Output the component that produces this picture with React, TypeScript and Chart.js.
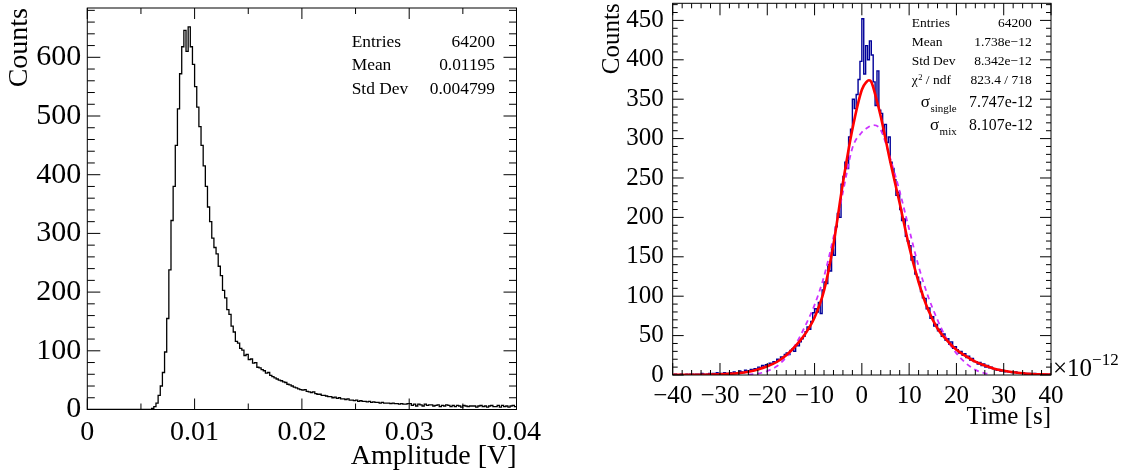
import React, { useEffect, useRef } from 'react';
import { Chart, registerables } from 'chart.js';

Chart.register(...registerables);

const FONT = "'Liberation Serif', 'Times New Roman', Times, serif";

// ---------------- Left panel: Amplitude histogram ----------------
const ampMin = 0;
const ampMax = 0.04;
const ampBinWidth = 0.0002;
const ampYMax = 684;
const ampCounts = [
  0, 0, 0, 0, 0, 0, 0, 0, 0, 0,
  0, 0, 0, 0, 0, 0, 0, 0, 0, 0,
  0, 0, 0, 0, 0, 0, 0, 0, 0, 0,
  2, 5, 11, 24, 40, 63, 98, 155, 238, 322,
  380, 450, 512, 572, 618, 646, 610, 652, 618, 588,
  550, 515, 482, 450, 415, 380, 345, 320, 292, 276,
  265, 244, 228, 203, 190, 170, 162, 142, 132, 116,
  113, 104, 101, 92, 94, 85, 86, 79, 80, 72,
  71, 68, 66, 62, 63, 58, 56, 54, 52, 50,
  49, 47, 46, 43, 42, 40, 38, 37, 35, 34,
  33, 34, 31, 30, 29, 30, 27, 26, 26, 24,
  24, 23, 22, 22, 20, 21, 19, 20, 18, 18,
  17, 18, 16, 16, 15, 16, 14, 15, 14, 14,
  13, 14, 12, 13, 12, 12, 11, 12, 11, 11,
  11, 10, 11, 10, 10, 9, 10, 9, 9, 10,
  10, 7, 9, 6, 9, 8, 6, 9, 7, 8,
  8, 6, 7, 8, 5, 7, 6, 8, 7, 5,
  7, 5, 7, 6, 4, 7, 6, 5, 6, 6,
  6, 4, 6, 7, 5, 6, 4, 6, 7, 5,
  5, 7, 4, 7, 5, 6, 4, 6, 7, 5,
];
const ampTickValues = [0, 0.01, 0.02, 0.03, 0.04];
const ampTickLabels = ['0', '0.01', '0.02', '0.03', '0.04'];
const ampCountTickValues = [0, 100, 200, 300, 400, 500, 600];
const ampCountTickLabels = ['0', '100', '200', '300', '400', '500', '600'];
const ampStatLabels = ['Entries', 'Mean', 'Std Dev'];
const ampStatValues = ['64200', '0.01195', '0.004799'];

// ---------------- Right panel: Time histogram ----------------
const timeMin = -40;
const timeMax = 40;
const timeBinWidth = 0.4;
const timeYMax = 471.7;
const timeCounts = [
  0, 1, 0, 0, 1, 0, 0, 1, 0, 1,
  1, 0, 1, 1, 0, 2, 1, 0, 1, 2,
  1, 2, 1, 3, 1, 2, 2, 3, 1, 2,
  3, 2, 4, 2, 3, 5, 4, 3, 6, 5,
  5, 7, 6, 8, 7, 10, 9, 12, 11, 13,
  12, 15, 14, 17, 16, 20, 19, 23, 22, 26,
  28, 26, 31, 33, 30, 38, 37, 42, 46, 49,
  55, 61, 58, 68, 79, 84, 80, 92, 78, 108,
  118, 116, 140, 132, 160, 152, 188, 205, 200, 242,
  252, 270, 262, 302, 312, 350, 338, 356, 375, 398,
  452, 382, 418, 400, 424, 406, 372, 342, 386, 336,
  332, 306, 318, 295, 302, 270, 262, 248, 228, 232,
  210, 196, 198, 176, 170, 164, 146, 150, 128, 124,
  118, 106, 98, 97, 84, 85, 72, 74, 62, 64,
  56, 58, 49, 52, 44, 46, 39, 42, 34, 36,
  32, 28, 30, 25, 27, 22, 24, 19, 21, 17,
  17, 14, 16, 12, 14, 10, 12, 9, 10, 8,
  8, 6, 7, 5, 6, 4, 5, 4, 4, 3,
  3, 4, 2, 3, 2, 3, 1, 2, 2, 1,
  1, 2, 1, 0, 1, 1, 0, 1, 0, 1,
];
const fitTimes = [-40, -38, -36, -34, -32, -30, -28, -26, -24, -22, -20, -18, -16, -14, -12, -10, -8, -6, -4, -2, 0, 1, 1.5, 2, 3, 4, 6, 8, 10, 12, 14, 16, 18, 20, 22, 24, 26, 28, 30, 32, 34, 36, 38, 40];
const fitValues = [0.1, 0.15, 0.25, 0.35, 0.5, 0.8, 1.4, 2.4, 4.2, 7, 11, 16.5, 25, 37, 52, 73, 107, 166, 244, 312, 362, 372, 374, 372, 352, 328, 271, 218, 163, 118, 83, 59, 44, 32, 24, 17, 12, 8, 5.4, 3.5, 2.2, 1.3, 0.8, 0.5];
const gausTimes = [-24, -22, -20, -18, -16, -14, -12, -10, -8, -6, -4, -2, 0, 1, 2.4, 4, 6, 8, 10, 12, 14, 16, 18, 20, 22, 24, 26, 27];
const gausValues = [0.5, 1.6, 5, 11, 22.5, 39, 62, 89, 125, 175, 232, 288, 308, 313, 317, 311, 275, 233, 185, 138, 100, 70, 45, 27.5, 15, 6.5, 2.2, 1.2];
const timeTickValues = [-40, -30, -20, -10, 0, 10, 20, 30, 40];
const timeTickLabels = ['\u221240', '\u221230', '\u221220', '\u221210', '0', '10', '20', '30', '40'];
const timeCountTickValues = [0, 50, 100, 150, 200, 250, 300, 350, 400, 450];
const timeCountTickLabels = ['0', '50', '100', '150', '200', '250', '300', '350', '400', '450'];
const timeStatLabels = ['Entries', 'Mean', 'Std Dev'];
const timeStatValues = ['64200', '1.738e\u221212', '8.342e\u221212'];
const chi2Value = '823.4 / 718';
const sigmaSingleValue = '7.747e-12';
const sigmaMixValue = '8.107e-12';

// ---------------- helpers ----------------
function histPoints(counts: number[], xmin: number, w: number) {
  const pts = counts.map((c, i) => ({ x: xmin + i * w, y: c }));
  pts.push({ x: xmin + counts.length * w, y: counts[counts.length - 1] });
  return pts;
}

type FrameCfg = {
  xStart: number; xEnd: number; xMinor: number; xPerMajor: number; xMajorLen: number; xMinorLen: number;
  yStart: number; yEnd: number; yMinor: number; yPerMajor: number; yMajorLen: number; yMinorLen: number;
};

function framePlugin(cfg: FrameCfg) {
  return {
    id: 'rootFrame',
    afterDatasetsDraw(chart: any) {
      const { ctx, chartArea: a, scales } = chart;
      const sx = scales.x;
      const sy = scales.y;
      ctx.save();
      ctx.strokeStyle = '#000';
      ctx.lineWidth = 1;
      ctx.beginPath();
      const nx = Math.round((cfg.xEnd - cfg.xStart) / cfg.xMinor);
      for (let i = 0; i <= nx; i++) {
        const v = cfg.xStart + i * cfg.xMinor;
        const len = i % cfg.xPerMajor === 0 ? cfg.xMajorLen : cfg.xMinorLen;
        const px = sx.getPixelForValue(v);
        ctx.moveTo(px, a.bottom);
        ctx.lineTo(px, a.bottom - len);
        ctx.moveTo(px, a.top);
        ctx.lineTo(px, a.top + len);
      }
      const ny = Math.floor((cfg.yEnd - cfg.yStart) / cfg.yMinor + 1e-9);
      for (let i = 0; i <= ny; i++) {
        const v = cfg.yStart + i * cfg.yMinor;
        const len = i % cfg.yPerMajor === 0 ? cfg.yMajorLen : cfg.yMinorLen;
        const py = sy.getPixelForValue(v);
        ctx.moveTo(a.left, py);
        ctx.lineTo(a.left + len, py);
        ctx.moveTo(a.right, py);
        ctx.lineTo(a.right - len, py);
      }
      ctx.stroke();
      ctx.strokeRect(a.left, a.top, a.right - a.left, a.bottom - a.top);
      ctx.restore();
    },
  };
}

function txt(ctx: CanvasRenderingContext2D, s: string, x: number, y: number, size: number, align: CanvasTextAlign = 'left') {
  ctx.font = `${size}px ${FONT}`;
  ctx.textAlign = align;
  ctx.textBaseline = 'alphabetic';
  ctx.fillStyle = '#000';
  ctx.fillText(s, x, y);
}

const leftTextPlugin = {
  id: 'leftText',
  afterDraw(chart: any) {
    const ctx = chart.ctx as CanvasRenderingContext2D;
    ctx.save();
    const base = [46.7, 70, 94];
    ampStatLabels.forEach((l, i) => {
      txt(ctx, l, 351.7, base[i], 17.4, 'left');
      txt(ctx, ampStatValues[i], 495, base[i], 17.4, 'right');
    });
    ctx.restore();
  },
};

const rightTextPlugin = {
  id: 'rightText',
  afterDraw(chart: any) {
    const ctx = chart.ctx as CanvasRenderingContext2D;
    ctx.save();
    const base = [26.7, 45.7, 65];
    const lx = 351.7;
    const vx = 471.7;
    timeStatLabels.forEach((l, i) => {
      txt(ctx, l, lx, base[i], 13.5, 'left');
      txt(ctx, timeStatValues[i], vx, base[i], 13.5, 'right');
    });
    // chi2 / ndf
    txt(ctx, '\u03c7', lx, 84, 13.5, 'left');
    ctx.font = `13.5px ${FONT}`;
    const wChi = ctx.measureText('\u03c7').width;
    txt(ctx, '2', lx + wChi + 0.5, 80, 8.5, 'left');
    ctx.font = `8.5px ${FONT}`;
    const w2 = ctx.measureText('2').width;
    txt(ctx, ' / ndf', lx + wChi + 0.5 + w2, 84, 13.5, 'left');
    txt(ctx, chi2Value, vx, 84, 13.5, 'right');
    // sigma lines
    const sigLine = (sub: string, yb: number, val: string) => {
      const subEnd = 396.7;
      ctx.font = `11px ${FONT}`;
      const wSub = ctx.measureText(sub).width;
      ctx.font = `17px ${FONT}`;
      const wSig = ctx.measureText('\u03c3').width;
      const xSub = subEnd - wSub;
      txt(ctx, '\u03c3', xSub - wSig - 0.5, yb, 17, 'left');
      txt(ctx, sub, xSub, yb + 5, 11, 'left');
      txt(ctx, val, 472.7, yb, 15.8, 'right');
    };
    sigLine('single', 106.7, sigmaSingleValue);
    sigLine('mix', 130, sigmaMixValue);
    // exponent label
    const a = chart.chartArea;
    txt(ctx, '\u00d710', a.right + 2, 376, 25, 'left');
    ctx.font = `25px ${FONT}`;
    const wx = ctx.measureText('\u00d710').width;
    txt(ctx, '\u221212', a.right + 2 + wx, 365, 17, 'left');
    ctx.restore();
  },
};

function tickSetter(values: number[]) {
  return (scale: any) => {
    scale.ticks = values.map((v) => ({ value: v }));
  };
}

function labelFor(values: number[], labels: string[]) {
  return (v: any) => {
    const i = values.findIndex((t) => Math.abs(t - Number(v)) < 1e-9);
    return i >= 0 ? labels[i] : '';
  };
}

export default function App() {
  const leftRef = useRef<HTMLCanvasElement | null>(null);
  const rightRef = useRef<HTMLCanvasElement | null>(null);

  useEffect(() => {
    Chart.defaults.font.family = FONT;
    Chart.defaults.color = '#000';

    const left = new Chart(leftRef.current as HTMLCanvasElement, {
      type: 'line',
      data: {
        datasets: [
          {
            label: 'amplitude',
            data: histPoints(ampCounts, ampMin, ampBinWidth),
            borderColor: '#000000',
            borderWidth: 1.3,
            pointRadius: 0,
            stepped: 'before',
            fill: false,
          },
        ],
      },
      options: {
        animation: false,
        responsive: false,
        maintainAspectRatio: false,
        events: [],
        layout: { padding: { left: 0, top: 8, right: 43.5, bottom: 0 } },
        plugins: { legend: { display: false }, tooltip: { enabled: false }, title: { display: false } },
        scales: {
          x: {
            type: 'linear',
            min: ampMin,
            max: ampMax,
            grid: { display: false, drawTicks: false },
            border: { display: false },
            afterBuildTicks: tickSetter(ampTickValues),
            ticks: {
              callback: labelFor(ampTickValues, ampTickLabels),
              font: { size: 28, family: FONT },
              color: '#000',
              padding: 6,
              maxRotation: 0,
              minRotation: 0,
              autoSkip: false,
            },
            title: {
              display: true,
              text: 'Amplitude [V]',
              align: 'end',
              color: '#000',
              font: { size: 28, family: FONT },
              padding: { top: 0, bottom: 2.7 },
            },
            afterFit: (s: any) => {
              s.height = 66.5;
              s.paddingLeft = 0;
              s.paddingRight = 0;
            },
          },
          y: {
            type: 'linear',
            min: 0,
            max: ampYMax,
            grid: { display: false, drawTicks: false },
            border: { display: false },
            afterBuildTicks: tickSetter(ampCountTickValues),
            ticks: {
              callback: labelFor(ampCountTickValues, ampCountTickLabels),
              font: { size: 30, family: FONT },
              color: '#000',
              padding: 6,
              autoSkip: false,
            },
            title: {
              display: true,
              text: 'Counts',
              align: 'end',
              color: '#000',
              font: { size: 28, family: FONT },
              padding: { top: 3.2, bottom: 0 },
            },
            afterFit: (s: any) => {
              s.width = 87.3;
              s.paddingTop = 0;
              s.paddingBottom = 0;
            },
          },
        },
      } as any,
      plugins: [
        framePlugin({
          xStart: 0, xEnd: 0.04, xMinor: 0.005, xPerMajor: 2, xMajorLen: 11, xMinorLen: 6,
          yStart: 0, yEnd: ampYMax, yMinor: 20, yPerMajor: 5, yMajorLen: 13, yMinorLen: 7.5,
        }),
        leftTextPlugin,
      ],
    });

    const right = new Chart(rightRef.current as HTMLCanvasElement, {
      type: 'line',
      data: {
        datasets: [
          {
            label: 'fit',
            data: fitTimes.map((x, i) => ({ x, y: fitValues[i] })),
            borderColor: '#ff0000',
            borderWidth: 2.6,
            pointRadius: 0,
            cubicInterpolationMode: 'monotone',
            fill: false,
            order: 0,
          },
          {
            label: 'gaus',
            data: gausTimes.map((x, i) => ({ x, y: gausValues[i] })),
            borderColor: '#cc33ff',
            borderWidth: 1.8,
            borderDash: [5, 4],
            pointRadius: 0,
            cubicInterpolationMode: 'monotone',
            fill: false,
            order: 1,
          },
          {
            label: 'time',
            data: histPoints(timeCounts, timeMin, timeBinWidth),
            borderColor: '#000099',
            borderWidth: 1.4,
            pointRadius: 0,
            stepped: 'before',
            fill: false,
            order: 2,
          },
        ],
      },
      options: {
        animation: false,
        responsive: false,
        maintainAspectRatio: false,
        events: [],
        layout: { padding: { left: 0, top: 3.3, right: 76, bottom: 0 } },
        plugins: { legend: { display: false }, tooltip: { enabled: false }, title: { display: false } },
        scales: {
          x: {
            type: 'linear',
            min: timeMin,
            max: timeMax,
            grid: { display: false, drawTicks: false },
            border: { display: false },
            afterBuildTicks: tickSetter(timeTickValues),
            ticks: {
              callback: labelFor(timeTickValues, timeTickLabels),
              font: { size: 25, family: FONT },
              color: '#000',
              padding: 6,
              maxRotation: 0,
              minRotation: 0,
              autoSkip: false,
            },
            title: {
              display: true,
              text: 'Time [s]',
              align: 'end',
              color: '#000',
              font: { size: 25, family: FONT },
              padding: { top: 0, bottom: 43.5 },
            },
            afterFit: (s: any) => {
              s.height = 101;
              s.paddingLeft = 0;
              s.paddingRight = 0;
            },
          },
          y: {
            type: 'linear',
            min: 0,
            max: timeYMax,
            grid: { display: false, drawTicks: false },
            border: { display: false },
            afterBuildTicks: tickSetter(timeCountTickValues),
            ticks: {
              callback: labelFor(timeCountTickValues, timeCountTickLabels),
              font: { size: 25, family: FONT },
              color: '#000',
              padding: 9,
              autoSkip: false,
            },
            title: {
              display: true,
              text: 'Counts',
              align: 'end',
              color: '#000',
              font: { size: 25, family: FONT },
              padding: { top: 37.5, bottom: 0 },
            },
            afterFit: (s: any) => {
              s.width = 112.7;
              s.paddingTop = 0;
              s.paddingBottom = 0;
            },
          },
        },
      } as any,
      plugins: [
        framePlugin({
          xStart: -40, xEnd: 40, xMinor: 2, xPerMajor: 5, xMajorLen: 12, xMinorLen: 5,
          yStart: 0, yEnd: timeYMax, yMinor: 10, yPerMajor: 5, yMajorLen: 11, yMinorLen: 5,
        }),
        rightTextPlugin,
      ],
    });

    return () => {
      left.destroy();
      right.destroy();
    };
  }, []);

  return (
    <div style={{ position: 'fixed', left: 0, top: 0, width: 1127, height: 476, background: '#ffffff' }}>
      <canvas ref={leftRef} width={560} height={476} style={{ position: 'absolute', left: 0, top: 0 }} />
      <canvas ref={rightRef} width={567} height={476} style={{ position: 'absolute', left: 560, top: 0 }} />
    </div>
  );
}
